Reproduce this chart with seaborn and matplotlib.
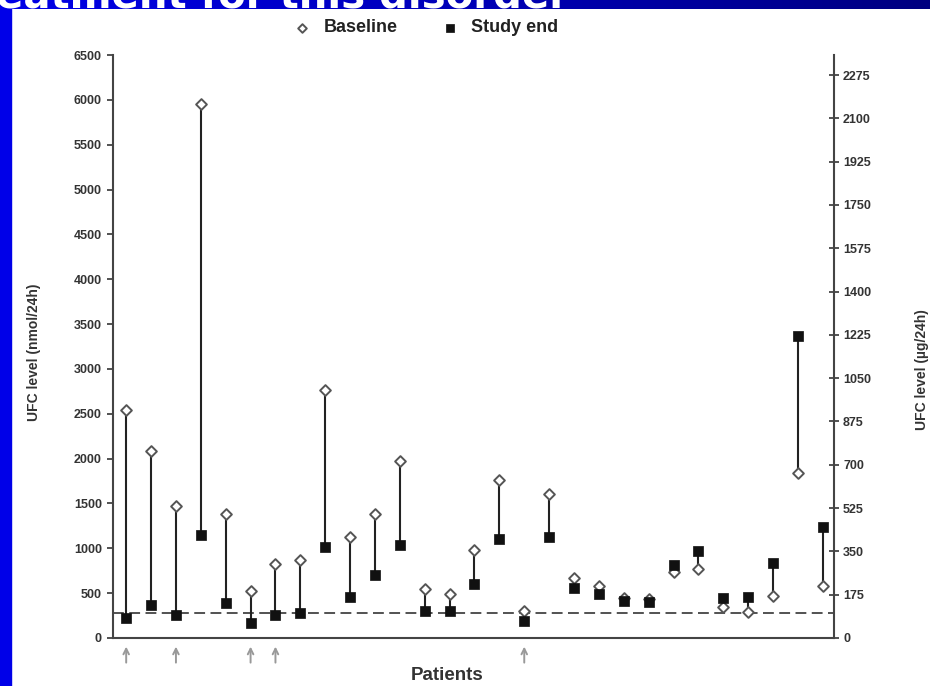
import matplotlib
matplotlib.use("Agg")
import matplotlib.pyplot as plt
import numpy as np
import pandas as pd
import seaborn as sns
from matplotlib.colors import LinearSegmentedColormap
from matplotlib.patches import Rectangle

# ---------------- data (nmol/24h) ----------------
patients = list(range(1, 30))
baseline = [2540, 2080, 1470, 5950, 1380, 520, 825, 870, 2760, 1130,
            1380, 1970, 545, 490, 985, 1765, 300, 1600, 670, 580,
            450, 430, 735, 770, 350, 295, 470, 1840, 580]
study_end = [225, 370, 258, 1150, 395, 172, 258, 282, 1018, 461,
             702, 1037, 305, 305, 598, 1107, 193, 1130, 555, 487,
             416, 396, 814, 973, 442, 461, 839, 3365, 1240]
arrow_patients = [1, 3, 6, 7, 17]
uln = 276
left_ticks = list(range(0, 6501, 500))
right_ticks = list(range(0, 2276, 175))
NMOL_PER_UG = 2.759

df = pd.DataFrame({"Patient": patients, "Baseline": baseline, "Study end": study_end})

sns.set_theme(style="white")
plt.rcParams['font.family'] = ['Liberation Sans', 'DejaVu Sans']

W, H = 930, 686
fig = plt.figure(figsize=(W / 100, H / 100), dpi=100)
fig.patch.set_facecolor("white")

# slide decorations: top gradient band and left strip
band = fig.add_axes([0, 1 - 9 / H, 1, 9 / H])
cmap = LinearSegmentedColormap.from_list("slide", ["#0000E8", "#0000B8", "#000080"])
band.imshow(np.linspace(0, 1, 256)[None, :], aspect="auto", cmap=cmap)
band.set_axis_off()
fig.patches.append(Rectangle((0, 0), 11 / W, 1, transform=fig.transFigure,
                             color="#0000E8", zorder=0))
fig.text(-4 / W, 1 - 7 / H, "eatment for this disorder", color="white",
         fontsize=29, fontweight="bold", family=["DejaVu Sans"],
         ha="left", va="baseline", zorder=5)

ax = fig.add_axes([113 / W, 48 / H, (834 - 113) / W, (638 - 55) / H])
ax.set_facecolor("white")

ax.vlines(df["Patient"], df["Baseline"], df["Study end"], color="#222222", lw=1.5, zorder=2)
ax.axhline(uln, color="#444444", lw=1.3, dashes=(6, 3), zorder=1)

sns.scatterplot(data=df, x="Patient", y="Baseline", ax=ax, marker="D", s=30,
                facecolor="white", edgecolor="#555555", linewidth=1.4, zorder=3,
                label="Baseline")
sns.scatterplot(data=df, x="Patient", y="Study end", ax=ax, marker="s", s=52,
                color="#111111", edgecolor="#111111", linewidth=0.5, zorder=4,
                label="Study end")

ax.set_xlim(0.47, 29.45)
ax.set_ylim(0, 6500)
ax.set_xticks([])
ax.set_yticks(left_ticks)
ax.set_xlabel("")
ax.set_ylabel("")
for s in ["top", "right"]:
    ax.spines[s].set_visible(False)
for s in ["left", "bottom"]:
    ax.spines[s].set_color("#444444")
    ax.spines[s].set_linewidth(1.5)
ax.tick_params(axis="y", direction="out", length=4, width=1.3, color="#444444",
               pad=4, labelsize=9, labelcolor="#333333", left=True)
for lab in ax.get_yticklabels():
    lab.set_fontweight("bold")

ax2 = ax.twinx()
ax2.set_ylim(0, 6500 / NMOL_PER_UG)
ax2.set_yticks(right_ticks)
for s in ["top", "left", "bottom"]:
    ax2.spines[s].set_visible(False)
ax2.spines["right"].set_color("#444444")
ax2.spines["right"].set_linewidth(1.5)
ax2.tick_params(axis="y", direction="inout", length=7, width=1.3, color="#444444",
                pad=3, labelsize=9, labelcolor="#333333", right=True)
for lab in ax2.get_yticklabels():
    lab.set_fontweight("bold")

# arrows beneath the axis
for p in arrow_patients:
    ax.annotate("", xy=(p, -0.010), xytext=(p, -0.047),
                xycoords=("data", "axes fraction"), textcoords=("data", "axes fraction"),
                arrowprops=dict(arrowstyle="->", color="#999999", lw=1.4,
                                mutation_scale=10), annotation_clip=False)

# labels
fig.text(34 / W, 1 - 352 / H, "UFC level (nmol/24h)", rotation=90, ha="center",
         va="center", fontsize=10, fontweight="bold", color="#333333")
fig.text(922 / W, 1 - 370 / H, "UFC level (\u00b5g/24h)", rotation=90, ha="center",
         va="center", fontsize=10, fontweight="bold", color="#333333")
fig.text(447 / W, 1 - 675 / H, "Patients", ha="center", va="center",
         fontsize=13.5, fontweight="bold", color="#333333")

# legend
h, l = ax.get_legend_handles_labels()
ax.legend(h, l, loc="center", bbox_to_anchor=(421 / W, 1 - 28 / H),
          bbox_transform=fig.transFigure, ncol=2, frameon=False,
          prop={"weight": "bold", "size": 13}, columnspacing=1.9,
          handletextpad=0.2, markerscale=0.8)
for t in ax.get_legend().get_texts():
    t.set_color("#222222")

fig.savefig("out.png", dpi=100, facecolor="white")
